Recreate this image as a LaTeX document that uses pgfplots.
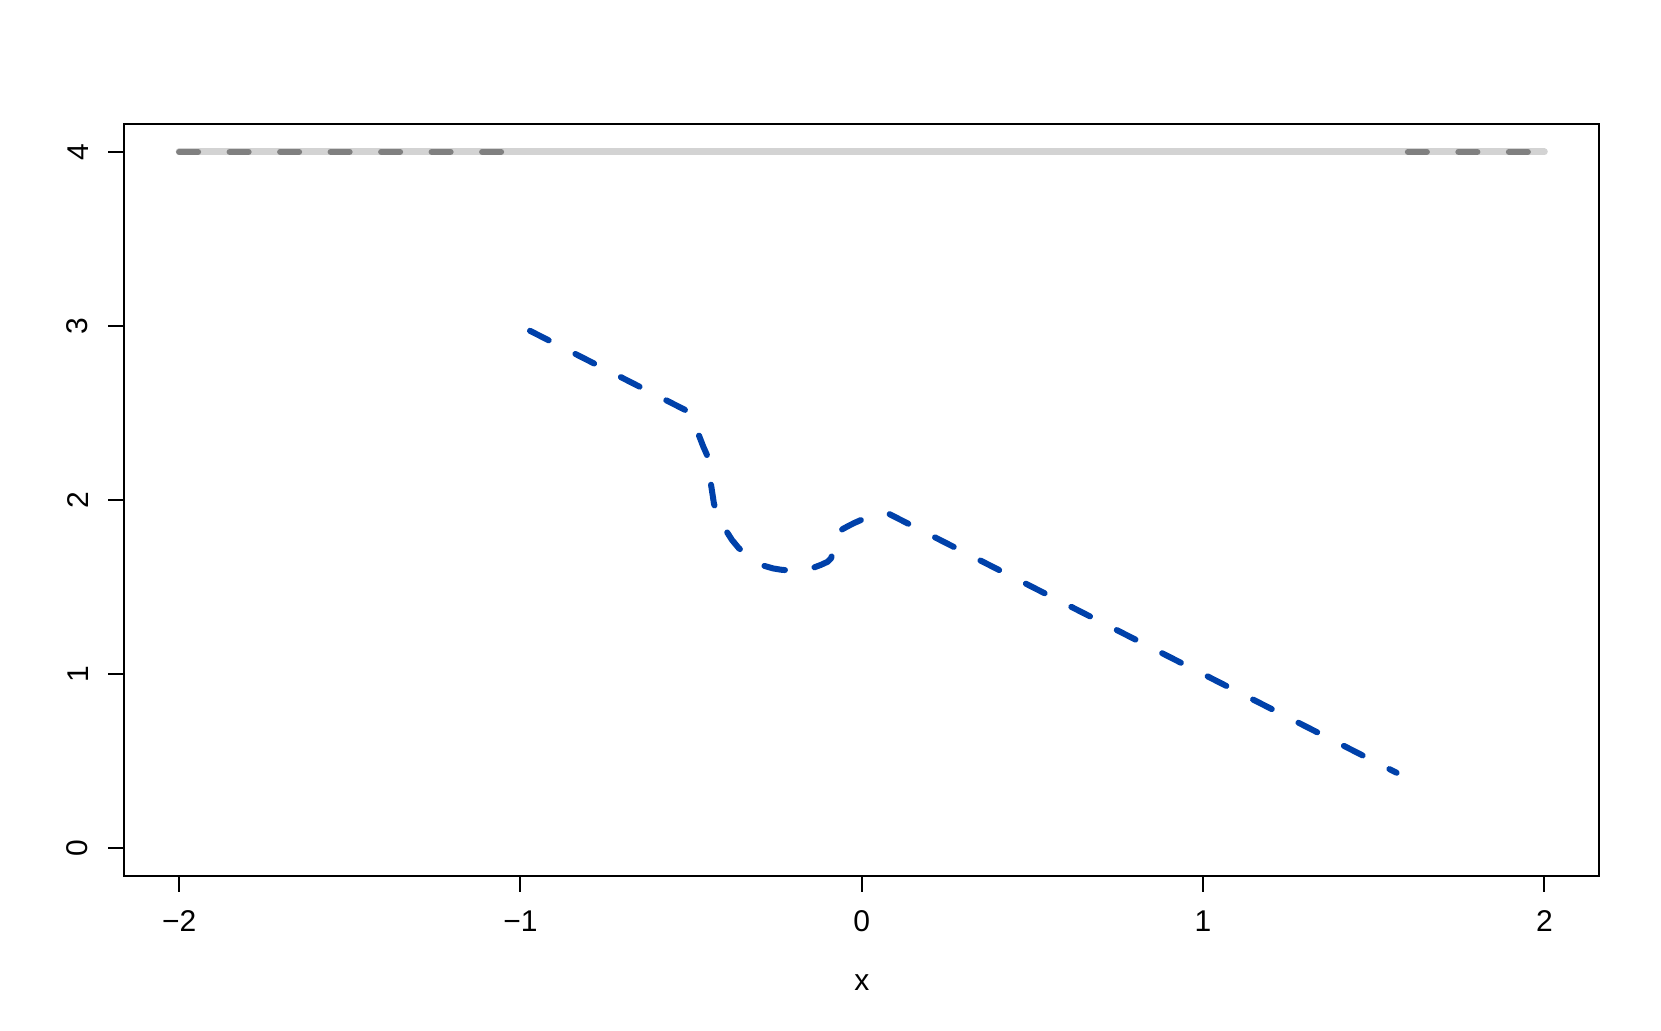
\documentclass[border=0pt]{standalone}
\usepackage{fontspec}
\setmainfont{Liberation Sans}
\usepackage{pgfplots}
\pgfplotsset{compat=1.18}
\definecolor{myblue}{RGB}{0,65,170}
\definecolor{dgray}{RGB}{128,128,128}
\definecolor{lgray}{RGB}{211,211,211}
\begin{document}
\fontsize{15}{18}\selectfont
\begin{tikzpicture}
\useasboundingbox (-62.25pt,-77.5pt) rectangle (768.25pt,438pt);
\begin{axis}[
  at={(0,0)}, anchor=south west,
  width=737.25pt, height=376pt, scale only axis,
  xmin=-2.16, xmax=2.16, ymin=-0.16, ymax=4.16,
  axis line style={line width=1pt},
  xtick={-2,-1,0,1,2}, xticklabels={−2,−1,0,1,2},
  ytick={0,1,2,3,4}, yticklabels={0,1,2,3,4},
  tick align=outside, xtick pos=left, ytick pos=left,
  major tick length=8pt,
  tick style={line width=1pt, black},
  xticklabel style={inner sep=0pt, anchor=north},
  yticklabel style={inner sep=0pt, rotate=90, anchor=south},
  xticklabel shift=9pt,
  yticklabel shift=10pt,
  xlabel={x},
  xlabel style={at={(axis description cs:0.5,0)}, anchor=center, inner sep=0pt, yshift=-53.4pt},
]
\addplot[lgray, line width=3.4pt, line cap=round] coordinates {(-2,4) (2,4)};
\addplot[dgray, line width=3pt, line cap=round, dash pattern=on 9.5pt off 15.75pt] coordinates {(-2,4) (-1,4)};
\addplot[dgray, line width=3pt, line cap=round, dash pattern=on 9.5pt off 15.75pt] coordinates {(1.6,4) (2,4)};
\addplot[myblue, line width=3pt, line cap=round, line join=round, dash pattern=on 10.5pt off 15pt] coordinates {
(-0.972,2.972) (-0.8,2.8) (-0.6,2.6) (-0.519,2.519) (-0.505,2.50) (-0.493,2.455) (-0.485,2.415) (-0.477,2.371) (-0.465,2.31) (-0.454,2.261) (-0.448,2.18) (-0.442,2.093) (-0.437,2.03) (-0.433,1.978) (-0.425,1.93) (-0.41,1.865) (-0.396,1.819) (-0.38,1.77) (-0.361,1.725) (-0.33,1.67) (-0.31,1.643) (-0.29,1.624) (-0.26,1.607) (-0.235,1.599) (-0.19,1.592) (-0.146,1.608) (-0.12,1.627) (-0.1,1.645) (-0.09,1.665) (-0.083,1.71) (-0.076,1.775) (-0.069,1.815) (-0.055,1.834) (-0.04,1.85) (-0.023,1.867) (0,1.887) (0.025,1.904) (0.05,1.917) (0.075,1.925) (0.117,1.883) (0.5,1.5) (1.0,1.0) (1.567,0.433)
};
\end{axis}
\end{tikzpicture}
\end{document}
